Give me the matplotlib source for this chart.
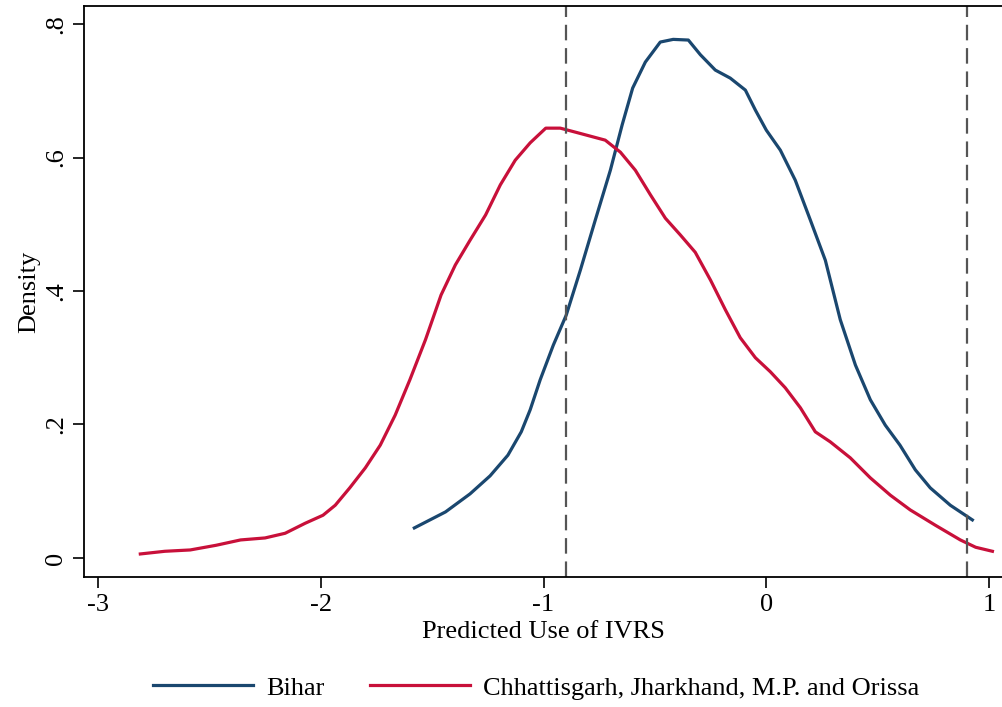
import matplotlib
matplotlib.use("Agg")
import matplotlib.pyplot as plt

# ---------- data ---------- #
bihar_x = [-1.58, -1.44, -1.33, -1.24, -1.16, -1.10, -1.06, -1.015, -0.956, -0.898,
           -0.835, -0.768, -0.70, -0.647, -0.60, -0.543, -0.476, -0.418, -0.35, -0.296,
           -0.229, -0.162, -0.094, -0.049, 0.0, 0.063, 0.13, 0.198, 0.265, 0.332,
           0.40, 0.467, 0.534, 0.60, 0.669, 0.736, 0.826, 0.925]
bihar_y = [0.045, 0.069, 0.096, 0.123, 0.154, 0.189, 0.222, 0.267, 0.319, 0.364,
           0.431, 0.506, 0.581, 0.649, 0.704, 0.743, 0.773, 0.777, 0.776, 0.754,
           0.731, 0.719, 0.701, 0.671, 0.641, 0.611, 0.566, 0.506, 0.446, 0.357,
           0.289, 0.237, 0.199, 0.169, 0.132, 0.105, 0.079, 0.057]

other_x = [-2.81, -2.70, -2.586, -2.47, -2.36, -2.25, -2.16, -2.07, -1.99, -1.935,
           -1.87, -1.80, -1.733, -1.666, -1.60, -1.53, -1.46, -1.396, -1.33, -1.26,
           -1.194, -1.127, -1.06, -0.99, -0.925, -0.857, -0.79, -0.723, -0.655, -0.588,
           -0.52, -0.453, -0.386, -0.319, -0.25, -0.184, -0.117, -0.049, 0.018, 0.085,
           0.153, 0.22, 0.287, 0.377, 0.467, 0.557, 0.646, 0.759, 0.871, 0.94, 1.015]
other_y = [0.006, 0.010, 0.012, 0.019, 0.027, 0.030, 0.037, 0.052, 0.064, 0.079,
           0.105, 0.135, 0.169, 0.214, 0.267, 0.327, 0.394, 0.439, 0.476, 0.514,
           0.559, 0.596, 0.622, 0.644, 0.644, 0.638, 0.632, 0.626, 0.608, 0.581,
           0.544, 0.509, 0.484, 0.458, 0.416, 0.372, 0.330, 0.300, 0.279, 0.255,
           0.225, 0.189, 0.174, 0.150, 0.120, 0.094, 0.072, 0.049, 0.027, 0.016, 0.010]

cutoffs = [-0.9, 0.9]
x_ticks = [-3, -2, -1, 0, 1]
y_ticks = [0, 0.2, 0.4, 0.6, 0.8]
y_labels = ["0", ".2", ".4", ".6", ".8"]
names = ["Bihar", "Chhattisgarh, Jharkhand, M.P. and Orissa"]

# ---------- figure ---------- #
plt.rcParams["font.family"] = ["Liberation Serif", "DejaVu Serif"]
FS = 19
fig = plt.figure(figsize=(10.02, 7.07), dpi=100)
ax = fig.add_axes([0.0838, 0.1839, 0.9162, 0.8076])

ax.plot(bihar_x, bihar_y, color="#1a476f", lw=2.3, label=names[0])
ax.plot(other_x, other_y, color="#c8103a", lw=2.3, label=names[1])
for c in cutoffs:
    ax.axvline(c, color="#555555", lw=1.6, dashes=(7, 3.5))

ax.set_xlim(-3.063, 1.058)
ax.set_ylim(-0.0285, 0.827)
ax.set_xticks(x_ticks)
ax.set_xticklabels([str(t) for t in x_ticks])
ax.set_yticks(y_ticks)
ax.set_yticklabels(y_labels, rotation=90, va="center")
ax.tick_params(direction="out", length=8, width=1.2, labelsize=FS, pad=4)
ax.spines["right"].set_visible(False)
for s in ["left", "bottom", "top"]:
    ax.spines[s].set_linewidth(1.3)

ax.set_xlabel("Predicted Use of IVRS", fontsize=FS, labelpad=4)
ax.set_ylabel("Density", fontsize=FS, labelpad=4)

fig.legend(loc="center", bbox_to_anchor=(0.535, 0.027), ncol=2, frameon=False,
           fontsize=FS, handlelength=3.8, columnspacing=1.7, handletextpad=0.5)

fig.savefig("out.png", dpi=100)
